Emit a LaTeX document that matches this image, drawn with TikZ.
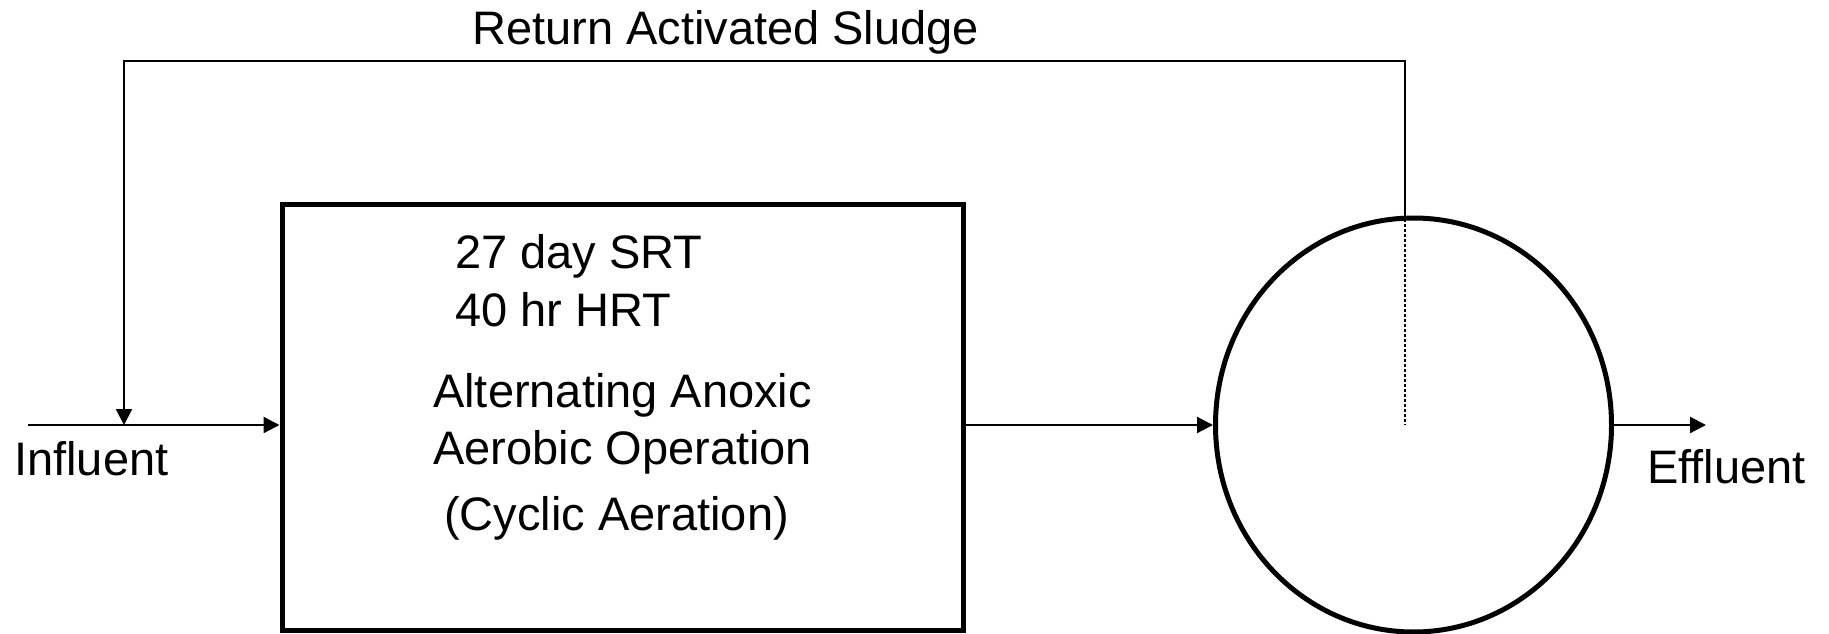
\documentclass[tikz,border=0pt]{standalone}
\usepackage{fontspec}
\setmainfont{Liberation Sans}
\usetikzlibrary{arrows.meta,shapes.geometric}
\begin{document}
\begin{tikzpicture}[x=1pt,y=-1pt,
  conn/.style={line width=2.2pt,-{Triangle[length=16pt,width=16pt]}},
  txt/.style={inner sep=0pt,anchor=base west,font=\fontsize{47}{56}\selectfont},
  tank/.style={draw,line width=5pt,rectangle,inner sep=0pt,minimum width=681pt,minimum height=426pt},
  clarifier/.style={draw,line width=5pt,ellipse,inner sep=0pt,minimum width=396pt,minimum height=414pt}]
\useasboundingbox (0,0) rectangle (1829,634);
\node[tank] (box) at (622.5,417) {};
\node[clarifier] (clar) at (1413.5,425) {};
\coordinate (in) at (28,425);
\coordinate (out) at (1706,425);
\coordinate (rtop) at (1405,219);
\coordinate (rmid) at (1405,425);
\coordinate (rl) at (124,61);
% text
\node[txt] (ras) at (472,45) {Return Activated Sludge};
\node[txt] (infl) at (14,475) {Influent};
\node[txt] (effl) at (1647,483) {Effluent};
\node[txt] (t1) at (455,268) {27 day SRT};
\node[txt] (t2) at (455,326) {40 hr HRT};
\node[txt] (t3) at (433,407) {Alternating Anoxic};
\node[txt] (t4) at (433,464) {Aerobic Operation};
\node[txt] (t5) at (444,530) {(Cyclic Aeration)};
% connectors
\draw[conn] (in) -- (in -| box.west);
\draw[conn] (clar.west -| box.east) -- (clar.west);
\draw[conn] (clar.east) -- (out);
\draw[conn] (rtop) |- (rl) -- (rl |- in);
\draw[line width=2pt,dash pattern=on 2.5pt off 2.5pt] (rtop) -- (rmid);
\end{tikzpicture}
\end{document}
